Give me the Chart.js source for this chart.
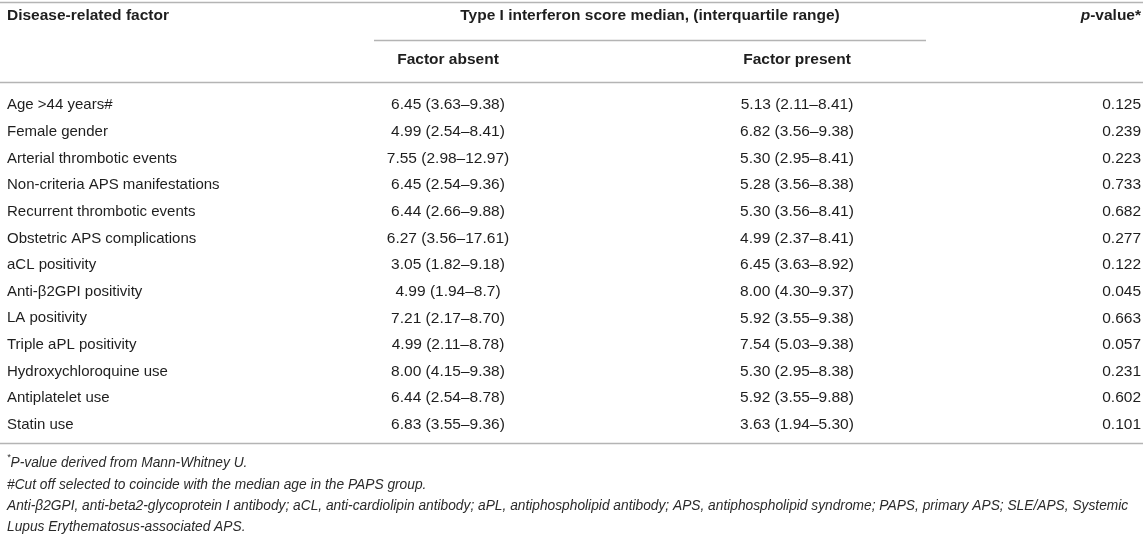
<!DOCTYPE html>
<html lang="en">
<head>
    <meta charset="UTF-8">
    <title>Type I interferon score by disease-related factor</title>
    <script src="https://cdn.jsdelivr.net/npm/chart.js"></script>
    <style>
        body {
            margin: 0;
            padding: 0;
            background: #fff;
        }
        canvas {
            display: block;
        }
    </style>
</head>
<body>
    <canvas id="tableChart" width="1147" height="534"></canvas>

    <script>
        // Table data, one entry per row
        const factors = [
            'Age >44 years#',
            'Female gender',
            'Arterial thrombotic events',
            'Non-criteria APS manifestations',
            'Recurrent thrombotic events',
            'Obstetric APS complications',
            'aCL positivity',
            'Anti-\u03B22GPI positivity',
            'LA positivity',
            'Triple aPL positivity',
            'Hydroxychloroquine use',
            'Antiplatelet use',
            'Statin use'
        ];
        // Factor absent: median, lower and upper quartile (kept as printed)
        const absentMedian = ['6.45', '4.99', '7.55', '6.45', '6.44', '6.27', '3.05', '4.99', '7.21', '4.99', '8.00', '6.44', '6.83'];
        const absentQ1 = ['3.63', '2.54', '2.98', '2.54', '2.66', '3.56', '1.82', '1.94', '2.17', '2.11', '4.15', '2.54', '3.55'];
        const absentQ3 = ['9.38', '8.41', '12.97', '9.36', '9.88', '17.61', '9.18', '8.7', '8.70', '8.78', '9.38', '8.78', '9.36'];
        // Factor present
        const presentMedian = ['5.13', '6.82', '5.30', '5.28', '5.30', '4.99', '6.45', '8.00', '5.92', '7.54', '5.30', '5.92', '3.63'];
        const presentQ1 = ['2.11', '3.56', '2.95', '3.56', '3.56', '2.37', '3.63', '4.30', '3.55', '5.03', '2.95', '3.55', '1.94'];
        const presentQ3 = ['8.41', '9.38', '8.41', '8.38', '8.41', '8.41', '8.92', '9.37', '9.38', '9.38', '8.38', '9.88', '5.30'];
        const pValues = [0.125, 0.239, 0.223, 0.733, 0.682, 0.277, 0.122, 0.045, 0.663, 0.057, 0.231, 0.602, 0.101];

        const footnotes = [
            [{ text: '*', sup: true }, { text: 'P-value derived from Mann-Whitney U.' }],
            [{ text: '#Cut off selected to coincide with the median age in the PAPS group.' }],
            [{ text: 'Anti-\u03B22GPI, anti-beta2-glycoprotein I antibody; aCL, anti-cardiolipin antibody; aPL, antiphospholipid antibody; APS, antiphospholipid syndrome; PAPS, primary APS; SLE/APS, Systemic' }],
            [{ text: 'Lupus Erythematosus-associated APS.' }]
        ];

        // Layout (x in canvas px, y in row units)
        const FONT = '"Liberation Sans", Arial, Helvetica, sans-serif';
        const colX = { factor: 7, absent: 448, present: 797, p: 1141 };
        const headRow1 = -3.35, headRow2 = -1.70;
        const rules = [
            { y: -3.875, x0: 0, x1: 1143 },
            { y: -2.43, x0: 374, x1: 926 },
            { y: -0.87, x0: 0, x1: 1143 },
            { y: 12.685, x0: 0, x1: 1143 }
        ];
        const footRows = [13.45, 14.28, 15.07, 15.83];

        const rowIdx = factors.map((_, i) => i);
        const cell = (m, a, b) => `${m} (${a}\u2013${b})`;

        function column(x, texts, align, font) {
            return {
                data: rowIdx.map(i => ({ x: x, y: i })),
                texts: texts,
                align: align,
                font: font,
                pointRadius: 0
            };
        }

        // draws a list of text runs; align is relative to the whole run
        function drawRuns(ctx, runs, x, y, align, baseFont) {
            const widths = runs.map(r => {
                ctx.font = (r.font || baseFont);
                return ctx.measureText(r.text).width;
            });
            const total = widths.reduce((s, w) => s + w, 0);
            let cx = align === 'right' ? x - total : align === 'center' ? x - total / 2 : x;
            runs.forEach((r, k) => {
                ctx.font = (r.font || baseFont);
                ctx.fillText(r.text, cx, r.sup ? y - 6 : y);
                cx += widths[k];
            });
        }

        const tablePlugin = {
            id: 'tableText',
            afterDatasetsDraw(chart) {
                const ctx = chart.ctx;
                const xs = chart.scales.x, ys = chart.scales.y;
                ctx.save();

                // horizontal rules
                ctx.strokeStyle = '#b4b4b4';
                ctx.lineWidth = 1.5;
                rules.forEach(r => {
                    const py = Math.round(ys.getPixelForValue(r.y)) + 0.5;
                    ctx.beginPath();
                    ctx.moveTo(xs.getPixelForValue(r.x0), py);
                    ctx.lineTo(xs.getPixelForValue(r.x1), py);
                    ctx.stroke();
                });

                ctx.fillStyle = '#1e1e1e';
                ctx.textBaseline = 'middle';

                // header
                const bold = `bold 15.5px ${FONT}`;
                const h1 = ys.getPixelForValue(headRow1), h2 = ys.getPixelForValue(headRow2);
                drawRuns(ctx, [{ text: 'Disease-related factor' }], xs.getPixelForValue(colX.factor), h1, 'left', bold);
                drawRuns(ctx, [{ text: 'Type I interferon score median, (interquartile range)' }],
                    xs.getPixelForValue((rules[1].x0 + rules[1].x1) / 2), h1, 'center', bold);
                drawRuns(ctx, [{ text: 'p', font: `italic bold 15.5px ${FONT}` }, { text: '-value*' }],
                    xs.getPixelForValue(colX.p), h1, 'right', bold);
                drawRuns(ctx, [{ text: 'Factor absent' }], xs.getPixelForValue(colX.absent), h2, 'center', bold);
                drawRuns(ctx, [{ text: 'Factor present' }], xs.getPixelForValue(colX.present), h2, 'center', bold);

                // body cells, placed at the dataset points
                chart.data.datasets.forEach((ds, di) => {
                    const meta = chart.getDatasetMeta(di);
                    meta.data.forEach((pt, i) => {
                        drawRuns(ctx, [{ text: ds.texts[i] }], pt.x, pt.y, ds.align, ds.font);
                    });
                });

                // footnotes
                ctx.fillStyle = '#2a2a2a';
                footnotes.forEach((runs, i) => {
                    const r = runs.map(t => t.sup ? Object.assign({ font: `italic 9px ${FONT}` }, t) : t);
                    drawRuns(ctx, r, xs.getPixelForValue(colX.factor), ys.getPixelForValue(footRows[i]), 'left', `italic 13.75px ${FONT}`);
                });
                ctx.restore();
            }
        };

        const labelFont = `15px ${FONT}`;
        const valueFont = `15.5px ${FONT}`;
        const ctx = document.getElementById('tableChart').getContext('2d');
        const tableChart = new Chart(ctx, {
            type: 'scatter',
            data: {
                datasets: [
                    column(colX.factor, factors, 'left', labelFont),
                    column(colX.absent, rowIdx.map(i => cell(absentMedian[i], absentQ1[i], absentQ3[i])), 'center', valueFont),
                    column(colX.present, rowIdx.map(i => cell(presentMedian[i], presentQ1[i], presentQ3[i])), 'center', valueFont),
                    column(colX.p, pValues.map(v => v.toFixed(3)), 'right', valueFont)
                ]
            },
            options: {
                responsive: false,
                animation: false,
                events: [],
                layout: { padding: 0 },
                plugins: {
                    legend: { display: false },
                    tooltip: { enabled: false }
                },
                scales: {
                    x: { type: 'linear', min: 0, max: 1147, display: false },
                    y: { type: 'linear', min: -3.95, max: 16.1, reverse: true, display: false }
                }
            },
            plugins: [tablePlugin]
        });
    </script>
</body>
</html>
